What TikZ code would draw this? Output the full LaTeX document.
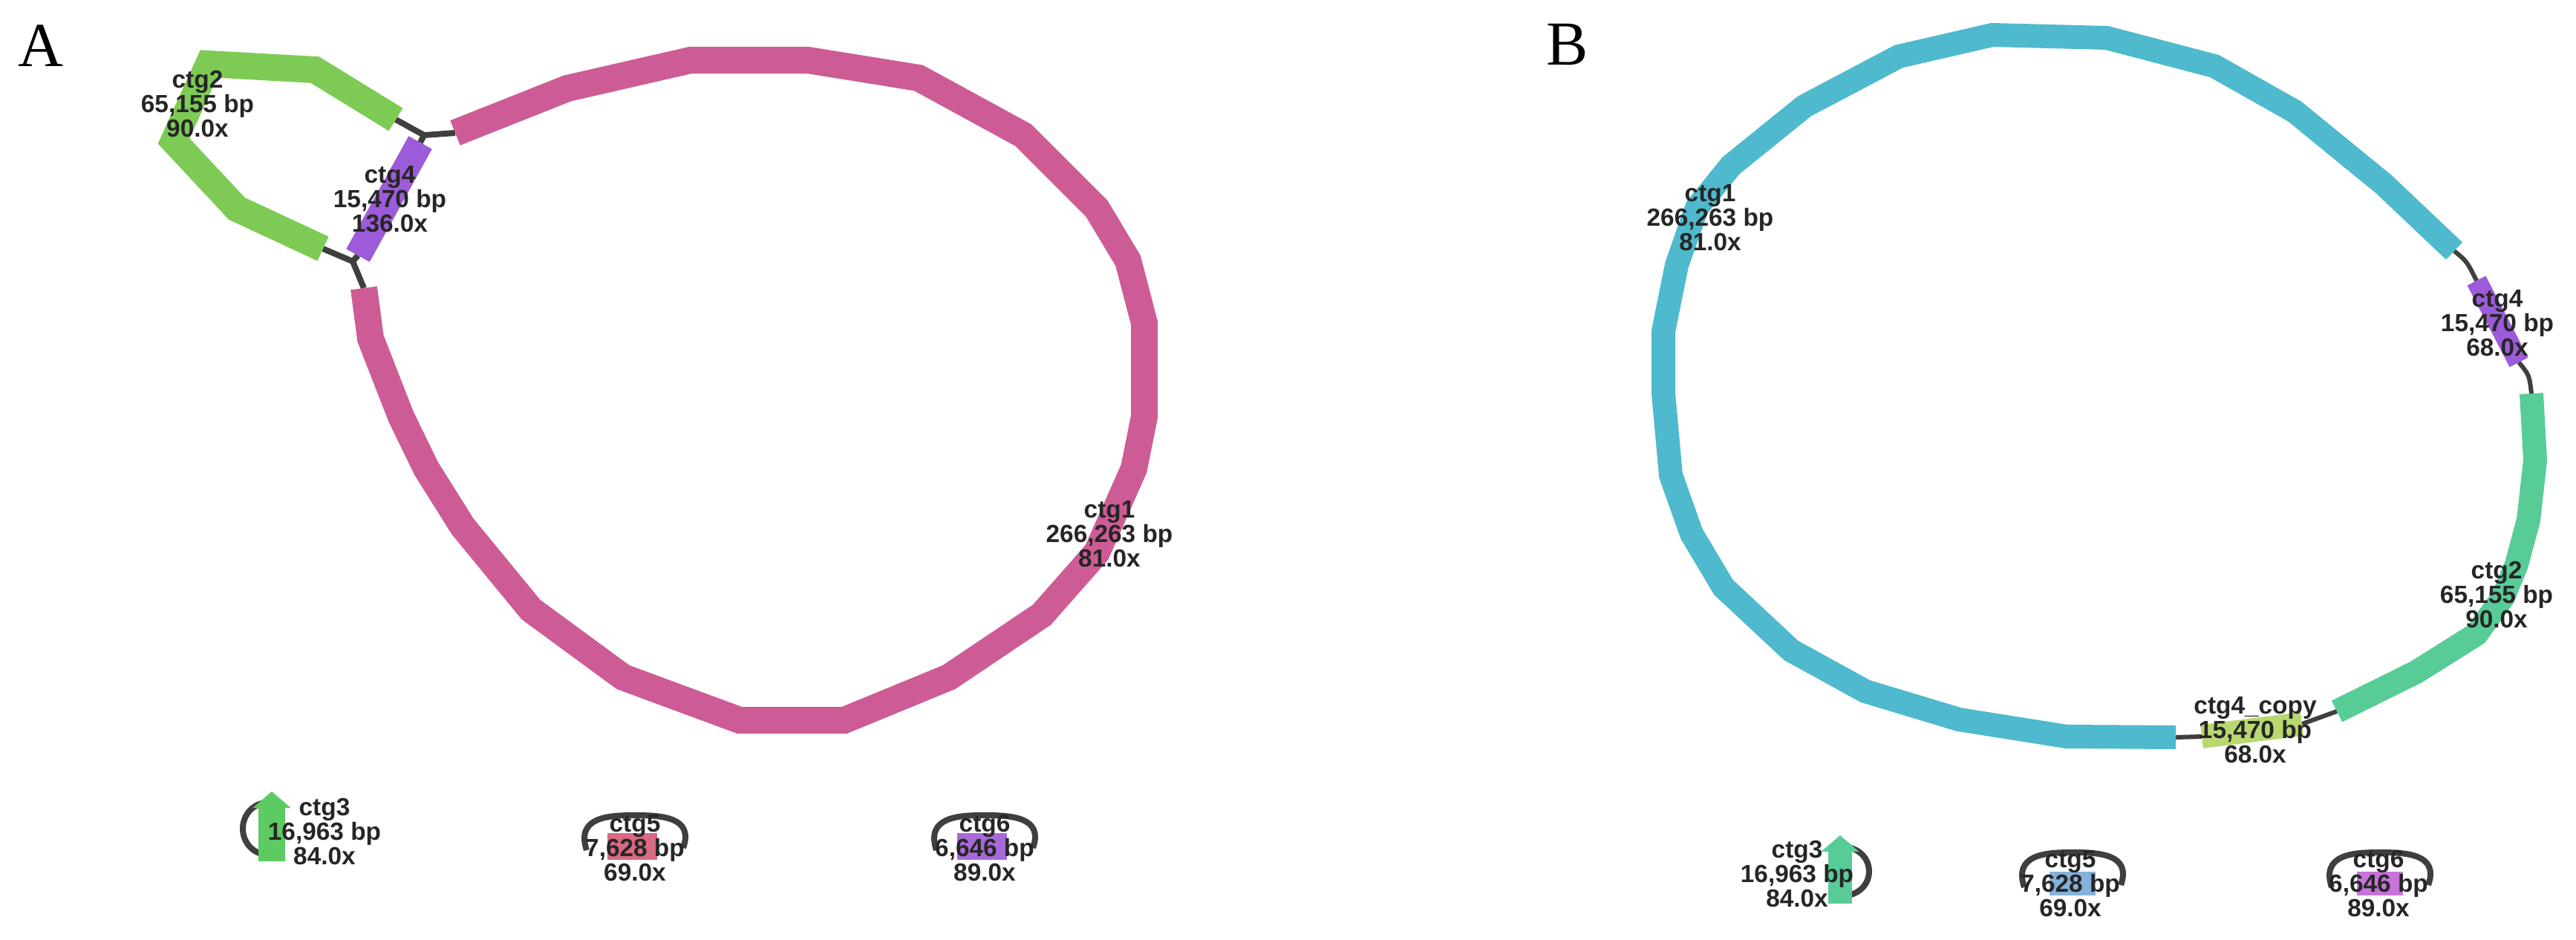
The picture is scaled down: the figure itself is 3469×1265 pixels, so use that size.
\documentclass[tikz,border=0pt]{standalone}
\usepackage{fontspec}
\setmainfont{Liberation Serif}
\newfontfamily\ctgfont{Liberation Sans}
\usetikzlibrary{arrows.meta}
\usepackage{xcolor}
\definecolor{rose}{HTML}{CD5C96}
\definecolor{leaf}{HTML}{7DCB55}
\definecolor{grape}{HTML}{9C5BD8}
\definecolor{grass}{HTML}{5DCB62}
\definecolor{blush}{HTML}{D86A82}
\definecolor{lilac}{HTML}{A66AD6}
\definecolor{sky}{HTML}{4FB9CD}
\definecolor{mint}{HTML}{58CC97}
\definecolor{lime}{HTML}{B9D870}
\definecolor{steel}{HTML}{86B2D9}
\definecolor{orchid}{HTML}{C774D8}
\definecolor{edgegrey}{HTML}{3F3F3F}
\definecolor{ink}{HTML}{262626}
\tikzset{
  contig/.style={line width=3.6mm,line join=miter},
  thin contig/.style={line width=3.2mm,line join=miter},
  link/.style={line width=0.8mm,draw=edgegrey},
  lbl/.style={align=center,inner sep=0pt,text=ink,font=\ctgfont\bfseries\fontsize{9.5}{9.4}\selectfont},
  panel/.style={inner sep=0pt,font=\fontsize{24}{24}\selectfont},
  tip/.style={-{Triangle[length=2.2mm,width=5mm]}}
}

\begin{document}
\begin{tikzpicture}[x=0.1mm,y=-0.1mm]
    \useasboundingbox (0,0) rectangle (3469,1265);
    \node[panel] (pA) at (55,62) {A};
    \node[panel] (pB) at (2111,60) {B};

    \coordinate (jA1) at (571,182);
    \coordinate (jA2) at (475,352);
    \coordinate (a1s) at (613,179);
    \coordinate (a1e) at (490,388);
    \coordinate (a2s) at (533,161);
    \coordinate (a2e) at (435,335);
    \coordinate (a4s) at (566,192);
    \coordinate (a4e) at (482,344);
    \draw[link] (a2s) -- (jA1);
    \draw[link] (jA1) -- (a1s);
    \draw[link] (jA1) -- (a4s);
    \draw[link] (a2e) -- (jA2);
    \draw[link] (a4e) -- (jA2);
    \draw[link] (jA2) -- (a1e);
    \draw[contig,draw=rose] (a1s) -- (764,119) -- (930,81) -- (1088,81) -- (1237,105) -- (1378,182)
      -- (1477,281) -- (1519,351) -- (1541,435) -- (1541,561) -- (1527,631) -- (1477,744)
      -- (1403,828) -- (1278,912) -- (1137,970) -- (996,970) -- (839,912) -- (715,821)
      -- (623,709) -- (574,631) -- (540,561) -- (499,456) -- (a1e);
    \draw[contig,draw=leaf] (a2s) -- (424,94) -- (281,86) -- (234,190) -- (319,281) -- (a2e);
    \draw[contig,draw=grape] (a4s) -- (a4e);
    \node[lbl] (l2) at (266,140) {ctg2\\65,155 bp\\90.0x};
    \node[lbl] (l4) at (525,268) {ctg4\\15,470 bp\\136.0x};
    \node[lbl] (l1) at (1494,719) {ctg1\\266,263 bp\\81.0x};

    \coordinate (a3b) at (366,1160);
    \coordinate (a3t) at (366,1066);
    \coordinate (a3in) at (366,1080);
    \coordinate (a3out) at (366,1152);
    \draw[link] (a3in) .. controls (314,1080) and (314,1152) .. (a3out);
    \draw[contig,draw=grass,tip] (a3b) -- (a3t);
    \node[lbl] (l3) at (437,1120) {ctg3\\16,963 bp\\84.0x};

    \coordinate (a5l) at (818,1140);
    \coordinate (a5r) at (885,1140);
    \coordinate (a5in) at (790,1145);
    \coordinate (a5out) at (920,1142);
    \draw[link] (a5in) .. controls (775,1100) and (820,1098) .. (855,1098) .. controls (890,1098) and (935,1100) .. (a5out);
    \draw[contig,draw=blush] (a5l) -- (a5r);
    \node[lbl] (l5) at (855,1142) {ctg5\\7,628 bp\\69.0x};

    \coordinate (a6l) at (1289,1140);
    \coordinate (a6r) at (1356,1140);
    \coordinate (a6in) at (1261,1145);
    \coordinate (a6out) at (1391,1142);
    \draw[link] (a6in) .. controls (1246,1100) and (1291,1098) .. (1326,1098) .. controls (1361,1098) and (1406,1100) .. (a6out);
    \draw[contig,draw=lilac] (a6l) -- (a6r);
    \node[lbl] (l6) at (1326,1142) {ctg6\\6,646 bp\\89.0x};

    \coordinate (b1s) at (3305,338);
    \coordinate (b1e) at (2930,993);
    \coordinate (b2s) at (3409,530);
    \coordinate (b2e) at (3147,958);
    \coordinate (b4s) at (3335,378);
    \coordinate (b4e) at (3392,488);
    \coordinate (b7s) at (2965,992);
    \coordinate (b7e) at (3100,975);
    \draw[link,line width=0.6mm] (b1s) .. controls (3322,352) .. (b4s);
    \draw[link,line width=0.6mm] (b4e) .. controls (3406,505) .. (b2s);
    \draw[link,line width=0.6mm] (b1e) -- (b7s);
    \draw[link,line width=0.6mm] (b7e) -- (b2e);
    \draw[thin contig,draw=sky] (b1s) -- (3210,248) -- (3090,150) -- (2982,89) -- (2837,51) -- (2683,47)
      -- (2557,76) -- (2430,143) -- (2331,223) -- (2285,280) -- (2258,357) -- (2240,446)
      -- (2240,530) -- (2250,640) -- (2278,719) -- (2321,791) -- (2412,876) -- (2512,931)
      -- (2638,969) -- (2783,992) -- (b1e);
    \draw[thin contig,draw=mint] (b2s) -- (3414,620) -- (3405,700) -- (3389,760) -- (3371,804)
      -- (3335,854) -- (3254,905) -- (b2e);
    \draw[contig,line width=2.8mm,draw=grape] (b4s) -- (b4e);
    \draw[thin contig,draw=lime] (b7s) -- (b7e);
    \node[lbl] (m1) at (2303,293) {ctg1\\266,263 bp\\81.0x};
    \node[lbl] (m4) at (3363,435) {ctg4\\15,470 bp\\68.0x};
    \node[lbl] (m2) at (3362,801) {ctg2\\65,155 bp\\90.0x};
    \node[lbl] (m7) at (3037,983) {ctg4\_copy\\15,470 bp\\68.0x};

    \coordinate (b3b) at (2478,1217);
    \coordinate (b3t) at (2478,1125);
    \coordinate (b3in) at (2478,1140);
    \coordinate (b3out) at (2478,1207);
    \draw[link] (b3in) .. controls (2530,1140) and (2530,1207) .. (b3out);
    \draw[thin contig,draw=mint,tip] (b3b) -- (b3t);
    \node[lbl] (m3) at (2420,1177) {ctg3\\16,963 bp\\84.0x};

    \coordinate (b5l) at (2760,1190);
    \coordinate (b5r) at (2822,1190);
    \coordinate (b5in) at (2726,1195);
    \coordinate (b5out) at (2856,1192);
    \draw[link] (b5in) .. controls (2711,1150) and (2756,1148) .. (2791,1148) .. controls (2826,1148) and (2871,1150) .. (b5out);
    \draw[thin contig,draw=steel] (b5l) -- (b5r);
    \node[lbl] (m5) at (2788,1190) {ctg5\\7,628 bp\\69.0x};

    \coordinate (b6l) at (3174,1190);
    \coordinate (b6r) at (3236,1190);
    \coordinate (b6in) at (3140,1195);
    \coordinate (b6out) at (3270,1192);
    \draw[link] (b6in) .. controls (3125,1150) and (3170,1148) .. (3205,1148) .. controls (3240,1148) and (3285,1150) .. (b6out);
    \draw[thin contig,draw=orchid] (b6l) -- (b6r);
    \node[lbl] (m6) at (3203,1190) {ctg6\\6,646 bp\\89.0x};
  \end{tikzpicture}
\end{document}
